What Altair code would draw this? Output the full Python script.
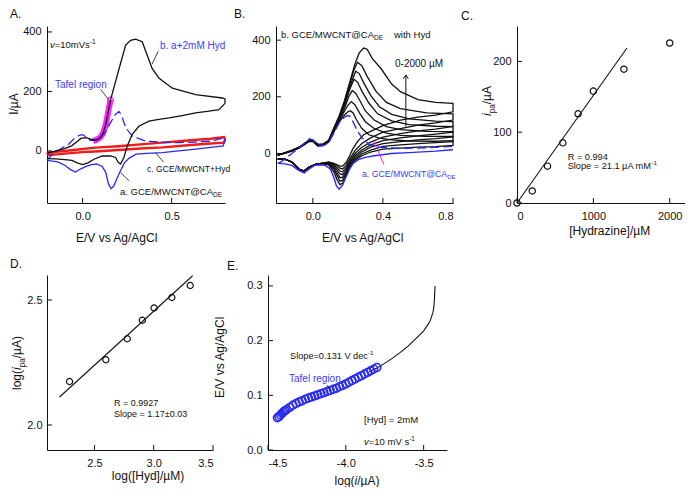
import altair as alt
import pandas as pd

FONT = "Liberation Sans"
BLACK = "#111111"
BLUE = "#2a2af5"
LBLUE = "#3b3bff"
MAGENTA = "#ff20ff"
RED = "#f01c1c"

# ---------------- Panel A : CVs ----------------
A_b_E = [-0.20, -0.15, -0.10, -0.06, -0.03, -0.01, 0.02, 0.045, 0.065, 0.085,
         0.10, 0.115, 0.13, 0.145, 0.157, 0.185, 0.213, 0.242, 0.27, 0.298,
         0.335, 0.363, 0.39, 0.43, 0.504, 0.635, 0.785, 0.80,
         0.80, 0.766, 0.70, 0.635, 0.56, 0.485, 0.42, 0.373, 0.316, 0.279,
         0.251, 0.232, 0.213, 0.20, 0.185, 0.157, 0.11, 0.064, 0.03, 0.00,
         -0.03, -0.06, -0.10, -0.15, -0.20]
A_b_I = [-8, 0, 8, 18, 32, 42, 45, 40, 36, 38,
         45, 60, 88, 135, 172, 233, 294, 356, 372, 376,
         367, 322, 278, 244, 211, 189, 178, 175,
         160, 139, 133, 128, 119, 111, 105, 100, 83, 56,
         17, -22, -44, -38, -22, -17, -17, -28, -40, -46,
         -40, -32, -29, -27, -26]
A_a_fE = [-0.20, -0.17, -0.12, -0.08, -0.05, -0.02, 0.00, 0.025, 0.045, 0.07, 0.10, 0.13,
          0.157, 0.18, 0.204, 0.22, 0.242, 0.279, 0.354, 0.45, 0.541, 0.63, 0.728, 0.79]
A_a_fI = [-30, -12, 8, 22, 40, 52, 55, 45, 35, 37, 44, 65,
          95, 120, 133, 118, 78, 50, 33, 29, 28, 30, 33, 44]
A_a_rE = [0.80, 0.79, 0.72, 0.635, 0.54, 0.448, 0.36, 0.30, 0.26, 0.235, 0.21, 0.19, 0.175,
          0.16, 0.145, 0.13, 0.11, 0.08, 0.05, 0.02, -0.01, -0.04, -0.07, -0.10, -0.14, -0.20]
A_a_rI = [40, 17, 12, 6, 0, -6, -8, -11, -25, -40, -70, -97, -118,
          -127, -110, -72, -52, -44, -46, -52, -60, -71, -62, -48, -37, -32]
A_c_E = [-0.20, -0.15, -0.05, 0.07, 0.20, 0.326, 0.448, 0.607, 0.72, 0.795, 0.80,
         0.795, 0.70, 0.607, 0.45, 0.326, 0.20, 0.07, 0.00, -0.10, -0.19, -0.20]
A_c_I = [-6, -3, 3, 11, 16, 22, 28, 36, 41, 47, 40,
         28, 24, 20, 12, 8, 3, -2, -4, -9, -14, -6]
A_taf_E = [0.06, 0.08, 0.10, 0.115, 0.13, 0.145, 0.157]
A_taf_I = [33, 38, 46, 60, 88, 135, 172]

# ---------------- Panel B : CVs with 0-2000 uM ----------------
B_PRE_E = [-0.2, -0.16, -0.12, -0.08, -0.05, -0.02, 0.0, 0.03, 0.06, 0.09, 0.12, 0.15, 0.18]
B_REV_E = [0.8, 0.7, 0.6, 0.5, 0.4, 0.33, 0.28, 0.24, 0.21, 0.19, 0.17, 0.155, 0.14, 0.12,
           0.09, 0.05, 0.02, -0.02, -0.05, -0.08, -0.12, -0.16, -0.2]

B0_fE = [-0.2, -0.18, -0.15, -0.12, -0.08, -0.05, -0.02, 0.0, 0.03, 0.06, 0.09, 0.12, 0.15,
         0.18, 0.2, 0.21, 0.225, 0.25, 0.28, 0.32, 0.38, 0.5, 0.65, 0.8]
B0_fI = [-35, -30, -15, 0, 18, 35, 52, 48, 28, 28, 38, 72, 108,
         128, 134, 132, 118, 85, 55, 32, 22, 18, 20, 25]
B0_rE = [0.8, 0.7, 0.55, 0.45, 0.35, 0.3, 0.26, 0.23, 0.21, 0.19, 0.17, 0.15, 0.135, 0.12,
         0.1, 0.07, 0.04, 0.01, -0.02, -0.05, -0.08, -0.12, -0.16, -0.2]
B0_rI = [13, 8, 3, 0, -8, -14, -22, -35, -55, -82, -112, -126, -115, -85,
         -55, -42, -40, -42, -55, -69, -60, -42, -37, -35]

B200_fE = B_PRE_E + [0.2, 0.215, 0.23, 0.25, 0.28, 0.32, 0.38, 0.45, 0.55, 0.7, 0.8]
B200_fI = [-6, 0, 8, 19, 30, 43, 42, 26, 28, 40, 76, 110, 135,
           147, 151, 143, 118, 88, 66, 54, 48, 44, 43, 45]
B200_rI = [28, 24, 22, 19, 15, 5, -8, -25, -50, -80, -105, -110, -95, -65,
           -40, -36, -38, -48, -63, -55, -30, -20, -20]

B400_fE = B_PRE_E + [0.2, 0.22, 0.24, 0.27, 0.3, 0.35, 0.42, 0.5, 0.65, 0.8]
B400_fI = [-6, 1, 9, 19, 31, 44, 43, 27, 29, 41, 78, 114, 148,
           170, 183, 172, 140, 112, 88, 72, 64, 60, 60]
B400_rI = [42, 38, 35, 30, 25, 12, -2, -20, -45, -72, -95, -98, -80, -55,
           -38, -36, -38, -48, -62, -55, -30, -20, -20]

B600_fE = B_PRE_E + [0.205, 0.225, 0.245, 0.27, 0.3, 0.35, 0.42, 0.5, 0.65, 0.8]
B600_fI = [-6, 1, 9, 20, 32, 45, 44, 28, 30, 42, 80, 118, 158,
           200, 222, 212, 185, 150, 118, 95, 84, 78, 77]
B600_rI = [58, 52, 48, 42, 35, 22, 5, -14, -40, -65, -85, -85, -70, -50,
           -37, -35, -38, -48, -62, -55, -30, -20, -20]

B800_fE = B_PRE_E + [0.21, 0.235, 0.255, 0.28, 0.32, 0.37, 0.45, 0.55, 0.7, 0.8]
B800_fI = [-6, 1, 10, 20, 32, 46, 45, 29, 31, 43, 83, 122, 168,
           225, 262, 252, 220, 178, 140, 115, 102, 96, 95]
B800_rI = [75, 68, 62, 55, 45, 30, 12, -8, -35, -58, -75, -72, -60, -45,
           -35, -35, -38, -48, -62, -55, -30, -20, -20]

B1000_fE = B_PRE_E + [0.21, 0.245, 0.265, 0.29, 0.33, 0.38, 0.45, 0.55, 0.7, 0.8]
B1000_fI = [-6, 2, 10, 21, 33, 46, 45, 30, 32, 44, 85, 126, 174,
            235, 290, 282, 250, 205, 165, 138, 122, 114, 112]
B1000_rI = [95, 86, 80, 70, 58, 40, 22, 0, -28, -50, -65, -62, -52, -42,
            -33, -35, -38, -48, -62, -55, -30, -20, -20]

B1400_fE = B_PRE_E + [0.21, 0.235, 0.255, 0.28, 0.31, 0.36, 0.42, 0.5, 0.65, 0.8]
B1400_fI = [-6, 2, 11, 21, 33, 47, 46, 31, 33, 45, 87, 128, 178,
            242, 295, 322, 310, 272, 220, 180, 158, 143, 140]
B1400_rI = [118, 108, 100, 88, 75, 55, 35, 10, -20, -42, -55, -52, -45, -38,
            -32, -35, -38, -48, -62, -55, -30, -20, -20]

B2000_fE = B_PRE_E + [0.21, 0.24, 0.265, 0.29, 0.31, 0.34, 0.39, 0.45, 0.5, 0.6, 0.7, 0.8]
B2000_fI = [-6, 2, 11, 22, 34, 48, 47, 32, 34, 46, 90, 132, 185,
            250, 315, 355, 372, 368, 335, 299, 245, 218, 190, 180, 177]
B2000_rE = [0.8, 0.7, 0.6, 0.5, 0.4, 0.33, 0.29, 0.255, 0.23, 0.21, 0.19, 0.17, 0.155, 0.14,
            0.12, 0.09, 0.05, 0.02, -0.02, -0.05, -0.08, -0.12, -0.16, -0.2]
B2000_rI = [147, 135, 128, 118, 98, 78, 66, 42, 18, -8, -32, -45, -45, -40,
            -35, -30, -35, -38, -48, -62, -55, -30, -20, -20]

# ---------------- Panel C : calibration ----------------
C_conc = [0, 200, 400, 600, 800, 1000, 1400, 2000]
C_ipa = [0, 17, 52, 85, 126, 158, 189, 226]
C_fit_x = [0, 1440]
C_fit_y = [0, 219]

# ---------------- Panel D : log-log ----------------
D_logc = [2.29, 2.596, 2.777, 2.904, 3.003, 3.153, 3.308]
D_logi = [2.174, 2.261, 2.345, 2.419, 2.468, 2.51, 2.558]
D_fit_x = [2.206, 3.328]
D_fit_y = [2.112, 2.597]

# ---------------- Panel E : Tafel ----------------
E_taf_x = [-4.44, -4.43, -4.42, -4.41, -4.40, -4.39, -4.38, -4.36, -4.34, -4.32, -4.30, -4.28,
           -4.26, -4.24, -4.22, -4.20, -4.18, -4.16, -4.14, -4.12, -4.10, -4.08, -4.06, -4.04,
           -4.02, -4.00, -3.98, -3.96, -3.94, -3.92, -3.90, -3.88, -3.86, -3.84, -3.82, -3.80]
E_taf_y = [0.059, 0.061, 0.064, 0.067, 0.070, 0.072, 0.074, 0.078, 0.082, 0.085, 0.088, 0.090,
           0.093, 0.095, 0.097, 0.099, 0.101, 0.103, 0.105, 0.107, 0.109, 0.111, 0.113, 0.116,
           0.118, 0.121, 0.124, 0.127, 0.130, 0.133, 0.136, 0.139, 0.142, 0.145, 0.148, 0.151]
E_line_x = [-3.85, -3.80, -3.758, -3.70, -3.652, -3.60, -3.545, -3.50, -3.48, -3.46, -3.449,
            -3.44, -3.434, -3.43, -3.427]
E_line_y = [0.143, 0.150, 0.157, 0.168, 0.178, 0.190, 0.205, 0.218, 0.226, 0.235, 0.244,
            0.252, 0.262, 0.280, 0.300]

# ---------------- helpers ----------------
CW = {' ': 278, '(': 333, ')': 333, '+': 584, '-': 333, '.': 278, '/': 278, '=': 584, '@': 1015,
      '[': 278, ']': 278, '±': 584, 'µ': 576, 'A': 667, 'B': 667, 'C': 722, 'D': 722, 'E': 667,
      'G': 778, 'H': 722, 'I': 278, 'M': 833, 'N': 722, 'R': 722, 'S': 667, 'T': 611, 'V': 667,
      'W': 944, 'a': 556, 'b': 556, 'c': 500, 'd': 556, 'e': 556, 'f': 278, 'g': 556, 'h': 556,
      'i': 222, 'l': 222, 'm': 833, 'n': 556, 'o': 556, 'p': 556, 'r': 333, 's': 500, 't': 278,
      'v': 500, 'w': 722, 'y': 500}
ONE = pd.DataFrame({"k": [0]})


def tw(s, fs):
    return sum(CW.get(ch, 556) for ch in s) * fs / 1000.0


def rich(parts, x, y, fs, color=BLACK, angle=0, anchor="start"):
    items, adv = [], 0.0
    for text, kind in parts:
        if kind == "gap":
            adv += float(text)
            continue
        if kind == "sub":
            f, sh = fs * 0.68, fs * 0.3
        elif kind == "sup":
            f, sh = fs * 0.68, -fs * 0.42
        else:
            f, sh = fs, 0.0
        items.append((text, kind, f, sh, adv))
        adv += tw(text, f)
    start = -adv / 2 if anchor == "middle" else 0.0
    rows = []
    for text, kind, f, sh, a in items:
        d = start + a
        if angle == 0:
            px, py = x + d, y + sh
        else:
            px, py = x + sh, y - d
        rows.append({"t": text, "px": px, "py": py, "fs": f, "c": color, "a": angle,
                     "it": kind == "i"})
    return rows


def text_layers(rows):
    out = []
    for r in rows:
        out.append(alt.Chart(ONE).mark_text(
            align="left", baseline="alphabetic", font=FONT,
            fontStyle="italic" if r["it"] else "normal", fontSize=r["fs"], color=r["c"],
            angle=r["a"], text=r["t"]).encode(x=alt.value(r["px"]), y=alt.value(r["py"])))
    return out


def cv_df(curves):
    rows = []
    for name, E, I in curves:
        for k, (e, i) in enumerate(zip(E, I)):
            rows.append({"curve": name, "i": k, "E": e, "I": i})
    return pd.DataFrame(rows)


def line_mark(df, color, sw, dash=None):
    def f(S):
        kw = dict(color=color, strokeWidth=sw)
        if dash:
            kw["strokeDash"] = dash
        return alt.Chart(df).mark_line(**kw).encode(
            x=alt.X("E:Q", scale=S["xs"], axis=S["ax"]), y=alt.Y("I:Q", scale=S["ys"], axis=S["ay"]),
            detail="curve:N", order="i:Q")
    return f


def point_mark(df, color, size, sw=1.0, shape="circle"):
    def f(S):
        return alt.Chart(df).mark_point(shape=shape, filled=False, color=color, size=size,
                                        strokeWidth=sw, opacity=1).encode(
            x=alt.X("E:Q", scale=S["xs"], axis=S["ax"]), y=alt.Y("I:Q", scale=S["ys"], axis=S["ay"]))
    return f


def seg_mark(segs, color, sw=1.0):
    df = pd.DataFrame(segs, columns=["E", "I", "E2", "I2"])

    def f(S):
        return alt.Chart(df).mark_rule(color=color, strokeWidth=sw).encode(
            x=alt.X("E:Q", scale=S["xs"], axis=S["ax"]), y=alt.Y("I:Q", scale=S["ys"], axis=S["ay"]),
            x2="E2:Q", y2="I2:Q")
    return f


def panel(w, h, xdom, ydom, xt, yt, xlab, ylab, marks, rows, lpx=7, lpy=6):
    S = {
        "xs": alt.Scale(domain=xdom, nice=False, zero=False),
        "ys": alt.Scale(domain=ydom, nice=False, zero=False),
        "ax": alt.Axis(values=xt, labelExpr=xlab, title=None, labelPadding=lpx),
        "ay": alt.Axis(values=yt, labelExpr=ylab, title=None, labelPadding=lpy),
    }
    xr = alt.Chart(pd.DataFrame({"E": xt})).mark_rule(color=BLACK).encode(
        x=alt.X("E:Q", scale=S["xs"], axis=S["ax"]), y=alt.value(h), y2=alt.value(h - 5))
    yr = alt.Chart(pd.DataFrame({"I": yt})).mark_rule(color=BLACK).encode(
        y=alt.Y("I:Q", scale=S["ys"], axis=S["ay"]), x=alt.value(0), x2=alt.value(5))
    layers = [m(S) for m in marks] + [xr, yr] + text_layers(rows)
    return alt.layer(*layers).properties(width=w, height=h)


F1 = "format(datum.value, '.1f')"
F0 = "format(datum.value, 'd')"
FNEG = "replace(format(datum.value, '.1f'), '\u2212', '-')"

# ---------------- build A ----------------
A_marks = [
    line_mark(cv_df([("taf", A_taf_E, A_taf_I)]), MAGENTA, 6),
    point_mark(cv_df([("tafp", A_taf_E[-1:], A_taf_I[-1:])]), MAGENTA, 30, 1.2),
    line_mark(cv_df([("c", A_c_E, A_c_I)]), RED, 2.4),
    line_mark(cv_df([("af", A_a_fE, A_a_fI)]), BLUE, 1.3, [9, 4]),
    line_mark(cv_df([("ar", A_a_rE, A_a_rI)]), BLUE, 1.3),
    line_mark(cv_df([("b", A_b_E, A_b_I)]), BLACK, 1.3),
    seg_mark([(0.425, 335, 0.39, 292), (0.101, 207, 0.146, 173), (0.41, -6, 0.455, -38),
              (0.213, -72, 0.26, -100)], BLACK, 0.8),
]
A_rows = (rich([("A.", "n")], -37, -8, 12)
          + rich([("I/µA", "n")], -29, 78, 12, angle=270, anchor="middle")
          + rich([("E/V vs Ag/AgCl", "n")], 70, 216, 12, anchor="middle")
          + rich([("v", "i"), ("=10mVs", "n"), ("-1", "sup")], 3, 22, 9.5)
          + rich([("b. a+2mM Hyd", "n")], 113, 23, 10, color=LBLUE)
          + rich([("Tafel region", "n")], 8, 61.5, 10, color=LBLUE)
          + rich([("c. GCE/MWCNT+Hyd", "n")], 100, 146, 8.6)
          + rich([("a. GCE/MWCNT@CA", "n"), ("DE", "sub")], 73, 168.5, 9.5))
chartA = panel(178, 177, [-0.2, 0.8], [-175, 420], [0.0, 0.5], [0, 200, 400], F1, F0,
               A_marks, A_rows)

# ---------------- build B ----------------
B_black = cv_df([
    ("200", B200_fE + B_REV_E, B200_fI + B200_rI),
    ("400", B400_fE + B_REV_E, B400_fI + B400_rI),
    ("600", B600_fE + B_REV_E, B600_fI + B600_rI),
    ("800", B800_fE + B_REV_E, B800_fI + B800_rI),
    ("1000", B1000_fE + B_REV_E, B1000_fI + B1000_rI),
    ("1400", B1400_fE + B_REV_E, B1400_fI + B1400_rI),
    ("2000", B2000_fE + B2000_rE, B2000_fI + B2000_rI),
])
B_arrow_head = pd.DataFrame({"E": [0.531], "I": [277]})
B_marks = [
    line_mark(B_black, BLACK, 1.3),
    line_mark(cv_df([("0f", B0_fE, B0_fI)]), BLUE, 1.4, [9, 4]),
    line_mark(cv_df([("0r", B0_rE, B0_rI)]), BLUE, 1.4),
    seg_mark([(0.349, 42, 0.406, -39)], MAGENTA, 1.0),
    seg_mark([(0.531, 95, 0.531, 277)], BLACK, 1.0),
    point_mark(B_arrow_head, BLACK, 70, 1.0, shape="M-0.6,0.9L0,0L0.6,0.9"),
]
B_rows = (rich([("B.", "n")], -42, -8, 12)
          + rich([("E/V vs Ag/AgCl", "n")], 87, 216, 12, anchor="middle")
          + rich([("b. GCE/MWCNT@CA", "n"), ("DE", "sub"), ("11", "gap"), ("with  Hyd", "n")],
                 5, 11.5, 9.5)
          + rich([("0-2000 µM", "n")], 119, 40.5, 10)
          + rich([("a. GCE/MWCNT@CA", "n"), ("DE", "sub")], 86, 150.5, 8.7, color=LBLUE))
chartB = panel(177, 177, [-0.21, 0.8], [-175, 450], [0.0, 0.4, 0.8], [0, 200, 400], F1, F0,
               B_marks, B_rows)

# ---------------- build C ----------------
C_marks = [
    line_mark(cv_df([("fit", C_fit_x, C_fit_y)]), BLACK, 1.1),
    point_mark(pd.DataFrame({"E": C_conc, "I": C_ipa}), BLACK, 40, 1.2),
]
C_rows = (rich([("C.", "n")], -56, -6, 12)
          + rich([("i", "i"), ("pa", "sub"), ("/µA", "n")], -26, 75, 12, angle=270, anchor="middle")
          + rich([("[Hydrazine]/µM", "n")], 93, 209, 12, anchor="middle")
          + rich([("R = 0.994", "n")], 50.7, 133.5, 9.2)
          + rich([("Slope = 21.1 µA mM", "n"), ("-1", "sup")], 50.7, 142.5, 9.2))
chartC = panel(168, 177, [0, 2200], [0, 250], [0, 1000, 2000], [0, 100, 200], F0, F0,
               C_marks, C_rows)

# ---------------- build D ----------------
D_marks = [
    line_mark(cv_df([("fit", D_fit_x, D_fit_y)]), BLACK, 1.1),
    point_mark(pd.DataFrame({"E": D_logc, "I": D_logi}), BLACK, 38, 1.2),
]
D_rows = (rich([("D.", "n")], -37, -7, 12)
          + rich([("log(", "n"), ("i", "i"), ("pa", "sub"), ("/µA)", "n")], -26, 88, 12,
                 angle=270, anchor="middle")
          + rich([("log([Hyd]/µM)", "n")], 101, 205, 12, anchor="middle")
          + rich([("R = 0.9927", "n")], 67, 130.5, 9)
          + rich([("Slope = 1.17±0.03", "n")], 67, 141.5, 9))
chartD = panel(166, 175, [2.1, 3.5], [1.9, 2.6], [2.5, 3.0, 3.5], [2.0, 2.5], F1, F1,
               D_marks, D_rows, lpy=5)

# ---------------- build E ----------------
E_marks = [
    line_mark(cv_df([("line", E_line_x, E_line_y)]), BLACK, 1.1),
    point_mark(pd.DataFrame({"E": E_taf_x, "I": E_taf_y}), BLUE, 60, 1.6),
    seg_mark([(-4.122, 0.119, -4.10, 0.110)], BLACK, 0.8),
]
E_rows = (rich([("E.", "n")], -41, -5, 12)
          + rich([("E/V vs Ag/AgCl", "n")], -44, 82, 12, angle=270, anchor="middle")
          + rich([("log(", "n"), ("i", "i"), ("/µA)", "n")], 89, 210, 12, anchor="middle")
          + rich([("Slope=0.131 V dec", "n"), ("-1", "sup")], 22, 83.5, 9.2)
          + rich([("Tafel region", "n")], 21, 106.5, 10, color=LBLUE)
          + rich([("[Hyd] = 2mM", "n")], 96, 147.5, 9.5)
          + rich([("v", "i"), ("=10 mV s", "n"), ("-1", "sup")], 96, 169.5, 9.5))
chartE = panel(179, 175, [-4.5, -3.35], [0, 0.32], [-4.5, -4.0, -3.5], [0.0, 0.1, 0.2, 0.3],
               FNEG, F1, E_marks, E_rows)

row1 = alt.hconcat(chartA, alt.hconcat(chartB, chartC, spacing=5), spacing=3)
row2 = alt.hconcat(chartD, chartE, spacing=0)

chart = (alt.vconcat(row1, row2, spacing=14)
         .properties(padding=0, background="white")
         .configure(font=FONT)
         .configure_view(stroke=None)
         .configure_axis(domainColor=BLACK, domainWidth=1, labelColor=BLACK, labelFont=FONT,
                         labelFontSize=11, ticks=False, grid=False))

chart.save("out.html", embed_options={"renderer": "svg", "actions": False})
